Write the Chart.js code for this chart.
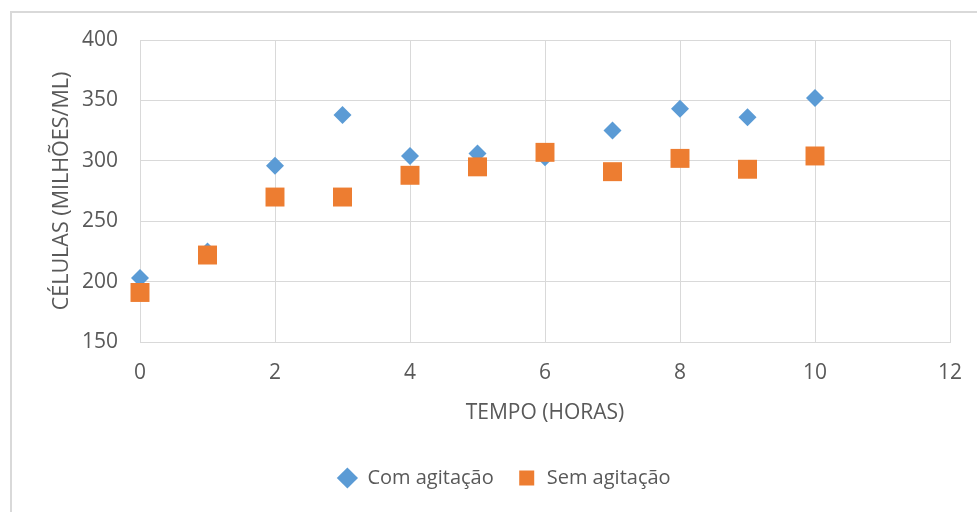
<!DOCTYPE html>
<html>
<head>
<meta charset="utf-8">
<script src="https://cdn.jsdelivr.net/npm/chart.js@4.4.0/dist/chart.umd.min.js"></script>
<style>
  html, body { margin: 0; padding: 0; background: #fff; }
  #wrap { width: 977px; height: 512px; }
</style>
</head>
<body>
<div id="wrap"><canvas id="chart" width="977" height="512"></canvas></div>
<script>
const horas = [0, 1, 2, 3, 4, 5, 6, 7, 8, 9, 10];
const comAgitacao = [203, 225, 296, 338, 304, 306, 303, 325, 343, 336, 352];
const semAgitacao = [191, 222, 270, 270, 288, 295, 307, 291, 302, 293, 304];

const textColor = "#595959";
const gridColor = "#d9d9d9";
const fontFamily = "'Open Sans', 'Noto Sans', sans-serif";

const toPoints = values => horas.map((h, i) => ({ x: h, y: values[i] }));

// frame around the whole chart, as in the spreadsheet export
const frame = {
  id: "frame",
  beforeDraw(chart) {
    const ctx = chart.ctx;
    ctx.save();
    ctx.fillStyle = "#fff";
    ctx.fillRect(0, 0, chart.width, chart.height);
    ctx.strokeStyle = gridColor;
    ctx.lineWidth = 2;
    ctx.strokeRect(11, 12, chart.width + 20, chart.height + 20);
    ctx.restore();
  }
};

new Chart(document.getElementById("chart"), {
  type: "scatter",
  data: {
    datasets: [
      {
        label: "Com agitação",
        data: toPoints(comAgitacao),
        pointStyle: "rectRot",
        pointRadius: 9,
        pointHoverRadius: 9,
        backgroundColor: "#5b9bd5",
        borderColor: "#5b9bd5",
        borderWidth: 0,
        clip: false,
        order: 2
      },
      {
        label: "Sem agitação",
        data: toPoints(semAgitacao),
        pointStyle: "rect",
        pointRadius: 13.4,
        pointHoverRadius: 13.4,
        backgroundColor: "#ed7d31",
        borderColor: "#ed7d31",
        borderWidth: 0,
        clip: false,
        order: 1
      }
    ]
  },
  options: {
    responsive: false,
    animation: false,
    layout: { padding: { top: 40, right: 27, left: 58, bottom: 14 } },
    plugins: {
      tooltip: { enabled: false },
      legend: {
        position: "bottom",
        labels: {
          usePointStyle: true,
          boxHeight: 15,
          padding: 23,
          color: textColor,
          font: { family: fontFamily, size: 20 },
          sort: (a, b) => a.datasetIndex - b.datasetIndex
        }
      }
    },
    scales: {
      x: {
        type: "linear",
        min: 0,
        max: 12,
        ticks: {
          stepSize: 2,
          padding: 18,
          color: textColor,
          font: { family: fontFamily, size: 21 }
        },
        grid: { color: gridColor, drawTicks: false },
        border: { color: gridColor },
        title: {
          display: true,
          text: "TEMPO (HORAS)",
          color: textColor,
          font: { family: fontFamily, size: 21 },
          padding: { top: 0, bottom: 19 }
        },
        afterFit(scale) {
          scale.height = 103;
          scale.paddingLeft = 0;
          scale.paddingRight = 0;
        }
      },
      y: {
        min: 150,
        max: 400,
        ticks: {
          stepSize: 50,
          padding: 22,
          color: textColor,
          font: { family: fontFamily, size: 21 }
        },
        grid: { color: gridColor, drawTicks: false },
        border: { color: gridColor },
        title: {
          display: true,
          text: "CÉLULAS (MILHÕES/ML)",
          color: textColor,
          font: { family: fontFamily, size: 21.5 },
          padding: { top: -9, bottom: 0 }
        },
        afterFit(scale) {
          scale.width = 82;
        }
      }
    }
  },
  plugins: [frame]
});
</script>
</body>
</html>
